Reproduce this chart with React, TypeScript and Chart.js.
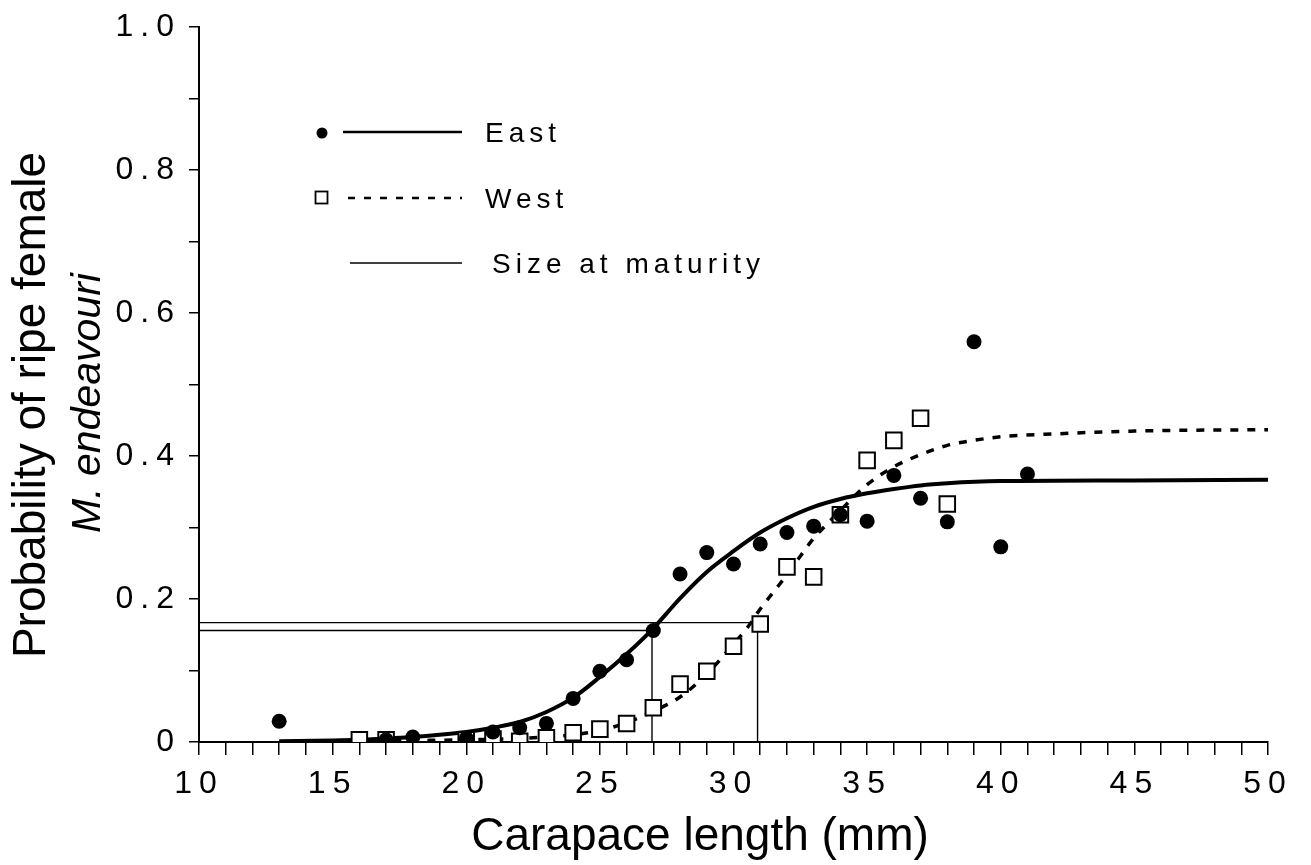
import React, { useEffect, useRef } from "react";
import { Chart, registerables } from "chart.js";

Chart.register(...registerables);

// ---- Data ----
const seriesNames = ["East", "West", "Size at maturity"];

const eastX = [13, 17, 18, 20, 21, 22, 23, 24, 25, 26, 27, 28, 29, 30, 31, 32, 33, 34, 35, 36, 37, 38, 39, 40, 41];
const eastY = [0.029, 0.003, 0.007, 0.005, 0.014, 0.020, 0.026, 0.061, 0.099, 0.115, 0.156, 0.235, 0.265, 0.249, 0.277, 0.293, 0.302, 0.318, 0.309, 0.373, 0.341, 0.308, 0.560, 0.273, 0.375];

const westX = [16, 17, 20, 21, 22, 23, 24, 25, 26, 27, 28, 29, 30, 31, 32, 33, 34, 35, 36, 37, 38];
const westY = [0.003, 0.003, 0.003, 0.004, 0.001, 0.006, 0.013, 0.018, 0.026, 0.048, 0.081, 0.099, 0.134, 0.165, 0.245, 0.231, 0.318, 0.394, 0.422, 0.453, 0.333];

const eastFitX = [13, 15, 16, 17, 18, 19, 20, 21, 22, 23, 24, 25, 26, 27, 27.5, 28, 29, 30, 31, 32, 33, 34, 35, 36, 37, 38, 40, 45, 50];
const eastFitY = [0.001, 0.002, 0.003, 0.005, 0.007, 0.010, 0.014, 0.020, 0.028, 0.042, 0.062, 0.091, 0.123, 0.159, 0.180, 0.201, 0.238, 0.267, 0.293, 0.313, 0.329, 0.340, 0.348, 0.354, 0.359, 0.362, 0.365, 0.366, 0.367];

const westFitX = [16, 18, 20, 22, 24, 25, 26, 27, 28, 29, 30, 30.5, 31, 31.5, 32, 32.5, 33, 33.5, 34, 35, 36, 37, 38, 39, 40, 42, 45, 50];
const westFitY = [0.001, 0.002, 0.003, 0.005, 0.010, 0.016, 0.027, 0.043, 0.063, 0.095, 0.137, 0.159, 0.186, 0.210, 0.234, 0.260, 0.285, 0.305, 0.324, 0.360, 0.385, 0.402, 0.415, 0.422, 0.427, 0.431, 0.435, 0.437];

const eastMatX = [10, 26.95, 26.95];
const eastMatY = [0.156, 0.156, 0];
const westMatX = [10, 30.9, 30.9];
const westMatY = [0.167, 0.167, 0];

const xTickLabels = ["10", "15", "20", "25", "30", "35", "40", "45", "50"];
const yTickLabels = ["0", "0.2", "0.4", "0.6", "0.8", "1.0"];

const xTitle = "Carapace length (mm)";
const yTitle1 = "Probability of ripe female";
const yTitle2 = "M. endeavouri";

const zip = (xs: number[], ys: number[]) => xs.map((x, i) => ({ x, y: ys[i] }));

const FONT = '"Liberation Sans", Arial, sans-serif';

const decorPlugin = {
  id: "decor",
  beforeLayout(chart: any) {
    chart.ctx.letterSpacing = "7px";
  },
  beforeDraw(chart: any) {
    const ctx = chart.ctx;
    ctx.save();
    ctx.fillStyle = "#fff";
    ctx.fillRect(0, 0, chart.width, chart.height);
    ctx.restore();
    ctx.letterSpacing = "7px";
  },
  afterDraw(chart: any) {
    const ctx = chart.ctx;
    ctx.save();
    ctx.letterSpacing = "0px";
    ctx.fillStyle = "#000";
    ctx.strokeStyle = "#000";

    // axis titles
    ctx.font = `46px ${FONT}`;
    ctx.textAlign = "center";
    ctx.textBaseline = "alphabetic";
    ctx.fillText(xTitle, 700, 850);

    ctx.save();
    ctx.translate(45, 405);
    ctx.rotate(-Math.PI / 2);
    ctx.font = `46px ${FONT}`;
    ctx.fillText(yTitle1, 0, 0);
    ctx.restore();

    ctx.save();
    ctx.translate(100, 403);
    ctx.rotate(-Math.PI / 2);
    ctx.font = `italic 41px ${FONT}`;
    ctx.fillText(yTitle2, 0, 0);
    ctx.restore();

    // legend
    ctx.letterSpacing = "5px";
    ctx.font = `28px ${FONT}`;
    ctx.textAlign = "left";
    ctx.textBaseline = "middle";

    // East
    ctx.beginPath();
    ctx.arc(322, 133, 5.5, 0, Math.PI * 2);
    ctx.fill();
    ctx.lineWidth = 2.5;
    ctx.beginPath();
    ctx.moveTo(343, 132);
    ctx.lineTo(462, 132);
    ctx.stroke();
    ctx.fillText(seriesNames[0], 485, 134);

    // West
    ctx.lineWidth = 1.8;
    ctx.strokeRect(315.5, 191.5, 12, 12);
    ctx.lineWidth = 2.5;
    ctx.setLineDash([7, 9]);
    ctx.beginPath();
    ctx.moveTo(348, 198);
    ctx.lineTo(462, 198);
    ctx.stroke();
    ctx.setLineDash([]);
    ctx.fillText(seriesNames[1], 485, 200);

    // Size at maturity
    ctx.lineWidth = 1.5;
    ctx.beginPath();
    ctx.moveTo(350, 263);
    ctx.lineTo(462, 263);
    ctx.stroke();
    ctx.fillText(seriesNames[2], 492, 265);

    ctx.restore();
  },
};

export default function App() {
  const canvasRef = useRef<HTMLCanvasElement | null>(null);

  useEffect(() => {
    const canvas = canvasRef.current;
    if (!canvas) return;
    const chart = new Chart(canvas, {
      type: "scatter",
      data: {
        datasets: [
          {
            label: seriesNames[0],
            data: zip(eastX, eastY),
            showLine: false,
            pointStyle: "circle",
            pointRadius: 7.5,
            backgroundColor: "#000",
            borderColor: "#000",
            borderWidth: 0,
            order: 1,
          },
          {
            label: seriesNames[1],
            data: zip(westX, westY),
            showLine: false,
            pointStyle: "rect",
            pointRadius: 11,
            backgroundColor: "#fff",
            borderColor: "#000",
            borderWidth: 2,
            order: 2,
          },
          {
            label: "East fit",
            data: zip(eastFitX, eastFitY),
            showLine: true,
            pointRadius: 0,
            borderColor: "#000",
            borderWidth: 4,
            cubicInterpolationMode: "monotone",
            order: 3,
          },
          {
            label: "West fit",
            data: zip(westFitX, westFitY),
            showLine: true,
            pointRadius: 0,
            borderColor: "#000",
            borderWidth: 3.5,
            borderDash: [8, 9],
            cubicInterpolationMode: "monotone",
            order: 4,
          },
          {
            label: "East maturity",
            data: zip(eastMatX, eastMatY),
            showLine: true,
            pointRadius: 0,
            borderColor: "#000",
            borderWidth: 1.4,
            order: 5,
          },
          {
            label: "West maturity",
            data: zip(westMatX, westMatY),
            showLine: true,
            pointRadius: 0,
            borderColor: "#000",
            borderWidth: 1.4,
            order: 6,
          },
        ],
      },
      options: {
        responsive: false,
        animation: false,
        devicePixelRatio: 1,
        layout: { padding: { left: 0, top: 24, right: 43, bottom: 0 } },
        plugins: {
          legend: { display: false },
          tooltip: { enabled: false },
          title: { display: false },
        },
        scales: {
          x: {
            type: "linear",
            min: 10,
            max: 50,
            border: { display: true, color: "#000", width: 2 },
            grid: {
              drawOnChartArea: false,
              drawTicks: true,
              tickLength: 13,
              color: "#000",
              lineWidth: 1.5,
            },
            ticks: {
              stepSize: 1,
              autoSkip: false,
              maxRotation: 0,
              padding: 10,
              color: "#000",
              font: { family: FONT, size: 32 },
              callback: (v: any) => {
                const n = Math.round(Number(v));
                if (n % 5 !== 0) return "";
                return xTickLabels[(n - 10) / 5] ?? "";
              },
            },
            afterFit: (s: any) => {
              s.height = 123;
            },
          },
          y: {
            type: "linear",
            min: 0,
            max: 1,
            border: { display: true, color: "#000", width: 2 },
            grid: {
              drawOnChartArea: false,
              drawTicks: true,
              tickLength: 10,
              color: "#000",
              lineWidth: 1.5,
            },
            ticks: {
              stepSize: 0.1,
              autoSkip: false,
              padding: 8,
              color: "#000",
              font: { family: FONT, size: 32 },
              callback: (v: any) => {
                const k = Math.round(Number(v) * 10);
                if (k % 2 !== 0) return "";
                return yTickLabels[k / 2] ?? "";
              },
            },
            afterFit: (s: any) => {
              s.width = 199;
            },
          },
        },
      },
      plugins: [decorPlugin],
    } as any);
    return () => chart.destroy();
  }, []);

  return (
    <div style={{ position: "absolute", left: 0, top: 0, width: 1311, height: 865, background: "#fff" }}>
      <canvas ref={canvasRef} width={1311} height={865} style={{ display: "block" }} />
    </div>
  );
}
